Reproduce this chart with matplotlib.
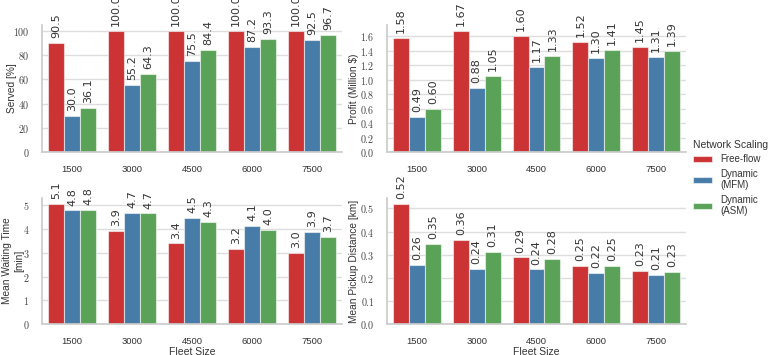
import matplotlib
matplotlib.use("Agg")
import matplotlib.pyplot as plt
import numpy as np
import seaborn as sns
from matplotlib.ticker import FuncFormatter, MultipleLocator

fleet_sizes = ["1500", "3000", "4500", "6000", "7500"]
series_names = ["Free-flow", "Dynamic\n(MFM)", "Dynamic\n(ASM)"]

served_ff = [90.5, 100.0, 100.0, 100.0, 100.0]
served_mfm = [30.0, 55.2, 75.5, 87.2, 92.5]
served_asm = [36.1, 64.3, 84.4, 93.3, 96.7]

profit_ff = [1.58, 1.67, 1.60, 1.52, 1.45]
profit_mfm = [0.49, 0.88, 1.17, 1.30, 1.31]
profit_asm = [0.60, 1.05, 1.33, 1.41, 1.39]

wait_ff = [5.06, 3.91, 3.40, 3.16, 2.98]
wait_mfm = [4.79, 4.69, 4.47, 4.13, 3.88]
wait_asm = [4.80, 4.66, 4.31, 3.96, 3.67]

pickup_ff = [0.519, 0.363, 0.288, 0.251, 0.228]
pickup_mfm = [0.256, 0.240, 0.236, 0.221, 0.211]
pickup_asm = [0.346, 0.312, 0.283, 0.253, 0.227]

sns.set_theme(style="whitegrid")
plt.rcParams['font.family'] = ['Liberation Sans', 'DejaVu Sans']
plt.rcParams['mathtext.fontset'] = 'cm'

base = sns.color_palette("Set1", 3)
colors = [sns.desaturate(c, 0.75) for c in base]

fig = plt.figure(figsize=(7.72, 3.55), dpi=100)
W, H = 772, 355
def axbox(l, t, r, b):
    return [l / W, 1 - b / H, (r - l) / W, (b - t) / H]

ax_served = fig.add_axes(axbox(42, 25, 342, 152))
ax_profit = fig.add_axes(axbox(387, 25, 686, 152))
ax_wait = fig.add_axes(axbox(42, 198, 342, 324))
ax_pick = fig.add_axes(axbox(387, 198, 686, 324))

panels = [
    (ax_served, [served_ff, served_mfm, served_asm], "Served [%]", "{:.1f}", 20, lambda v, p: f"${v:.0f}$", False, -0.083),
    (ax_profit, [profit_ff, profit_mfm, profit_asm], "Profit (Million $)", "{:.2f}", 0.2, lambda v, p: f"${v:.1f}$", False, -0.092),
    (ax_wait, [wait_ff, wait_mfm, wait_asm], "Mean Waiting Time\n[min]", "{:.1f}", 1, lambda v, p: f"${v:.0f}$", True, -0.06),
    (ax_pick, [pickup_ff, pickup_mfm, pickup_asm], "Mean Pickup Distance [km]", "{:.2f}", 0.1, lambda v, p: f"${v:.1f}$", True, -0.092),
]

x = np.arange(len(fleet_sizes))
bw = 0.8 / 3
for ax, series, ylabel, fmt, step, yfmt, show_xlabel, lx in panels:
    handles = []
    for i, vals in enumerate(series):
        pos = x - 0.4 + bw * (i + 0.5)
        bars = ax.bar(pos, vals, width=bw, color=colors[i],
                      edgecolor=(1, 1, 1, 0.55), linewidth=0.8, label=series_names[i], zorder=2)
        handles.append(bars)
        for px, v in zip(pos, vals):
            ax.annotate(fmt.format(v), (px, v), xytext=(0, 3.5), textcoords="offset points",
                        rotation=90, ha="center", va="bottom", fontsize=8, color="#333333",
                        family="DejaVu Sans", annotation_clip=False)
    ax.set_xlim(-0.5, len(fleet_sizes) - 0.5)
    ax.set_xticks(x)
    ax.set_xticklabels(fleet_sizes, fontsize=6.8)
    ax.yaxis.set_major_locator(MultipleLocator(step))
    ax.yaxis.set_major_formatter(FuncFormatter(yfmt))
    ax.tick_params(axis='y', labelsize=7.2, pad=3, labelcolor="#444444")
    ax.tick_params(axis='x', pad=3, labelcolor="#333333")
    ax.set_ylabel(ylabel, fontsize=7.3, color="#333333")
    ax.yaxis.set_label_coords(lx, 0.5)
    if show_xlabel:
        ax.set_xlabel("Fleet Size", fontsize=7.5, labelpad=1, color="#333333")
    ax.grid(axis='x', visible=False)
    ax.grid(axis='y', color="#dddddd", linewidth=1)
    ax.set_axisbelow(True)
    sns.despine(ax=ax)
    for s in ["left", "bottom"]:
        ax.spines[s].set_color("#cccccc")

leg = fig.legend(handles=handles, labels=series_names, title="Network Scaling",
                 loc="upper left", bbox_to_anchor=(689 / W, 1 - 136 / H), frameon=False,
                 fontsize=7, title_fontsize=7.5, handlelength=2.0, handleheight=0.6,
                 labelspacing=0.45, handletextpad=0.8, borderaxespad=0)
leg._legend_box.align = "left"
plt.setp(leg.get_texts(), color="#333333")
leg.get_title().set_color("#333333")

fig.savefig("out.png", dpi=100)
